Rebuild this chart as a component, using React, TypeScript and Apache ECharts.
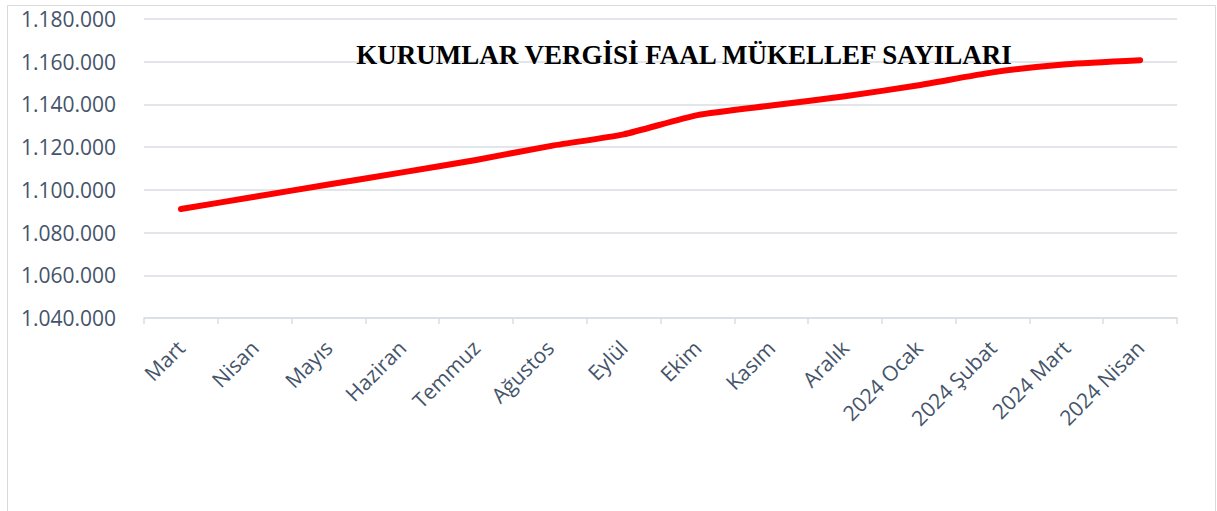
import React, { useEffect, useRef } from "react";
import * as echarts from "echarts";

const categories = [
  "Mart", "Nisan", "Mayıs", "Haziran", "Temmuz", "Ağustos", "Eylül",
  "Ekim", "Kasım", "Aralık", "2024 Ocak", "2024 Şubat", "2024 Mart", "2024 Nisan",
];
const values = [
  1091000, 1096800, 1102500, 1108200, 1114000, 1120500, 1126000,
  1135000, 1139500, 1143800, 1149000, 1155000, 1158800, 1160700,
];
const titleText = "KURUMLAR VERGİSİ FAAL MÜKELLEF SAYILARI";
const yMin = 1040000;
const yMax = 1180000;
const yStep = 20000;

const fmt = (v: number) => {
  const s = Math.round(v).toString();
  return s.replace(/\B(?=(\d{3})+(?!\d))/g, ".");
};

export default function App() {
  const ref = useRef<HTMLDivElement>(null);
  useEffect(() => {
    if (!ref.current) return;
    const chart = echarts.init(ref.current, undefined, { renderer: "svg" });
    const labelColor = "#44546A";
    const gridColor = "#D9DEE4";
    chart.setOption({
      animation: false,
      backgroundColor: "#ffffff",
      title: {
        text: titleText,
        left: 679,
        top: 36,
        textAlign: "center",
        textStyle: {
          fontFamily: "Liberation Serif",
          fontWeight: "bold",
          fontSize: 27,
          color: "#000000",
        },
      },
      graphic: [
        {
          type: "rect",
          shape: { x: 7.5, y: 5.5, width: 1208, height: 520 },
          style: { fill: "none", stroke: "#D9D9D9", lineWidth: 1 },
          silent: true,
        },
      ],
      grid: { left: 144, right: 40, top: 19, bottom: 193 },
      xAxis: {
        type: "category",
        data: categories,
        boundaryGap: true,
        axisLine: { lineStyle: { color: gridColor, width: 1.5 } },
        axisTick: { show: true, length: 6, lineStyle: { color: gridColor, width: 1.5 } },
        axisLabel: {
          rotate: 45,
          interval: 0,
          margin: 26,
          color: labelColor,
          fontFamily: "Open Sans",
          fontSize: 21,
        },
      },
      yAxis: {
        type: "value",
        min: yMin,
        max: yMax,
        interval: yStep,
        axisLine: { show: false },
        axisTick: { show: false },
        splitLine: { lineStyle: { color: gridColor, width: 1.5 } },
        axisLabel: {
          margin: 28,
          color: labelColor,
          fontFamily: "Open Sans",
          fontSize: 21,
          formatter: (v: number) => fmt(v),
        },
      },
      series: [
        {
          type: "line",
          data: values,
          smooth: 0.2,
          symbol: "none",
          lineStyle: { color: "#FF0000", width: 6, cap: "round", join: "round" },
        },
      ],
    });
    return () => chart.dispose();
  }, []);
  return (
    <div
      ref={ref}
      style={{ position: "fixed", left: 0, top: 0, width: 1217, height: 511 }}
    />
  );
}
